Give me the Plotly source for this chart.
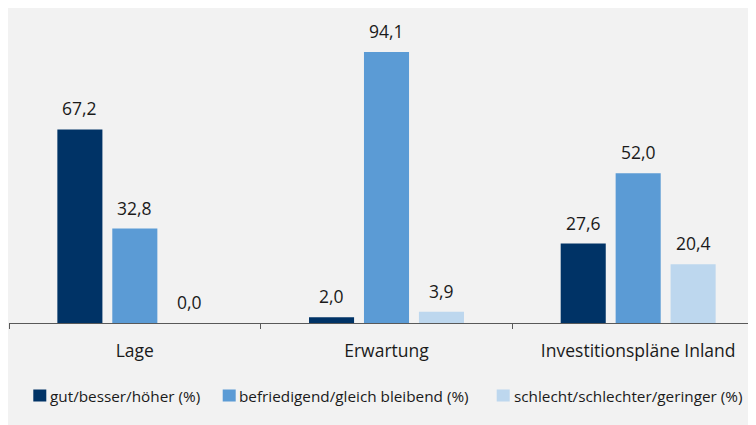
import plotly.graph_objects as go

categories = ["Lage", "Erwartung", "Investitionspläne Inland"]
series_names = ["gut/besser/höher (%)", "befriedigend/gleich bleibend (%)", "schlecht/schlechter/geringer (%)"]
gut = [67.2, 2.0, 27.6]
befriedigend = [32.8, 94.1, 52.0]
schlecht = [0.0, 3.9, 20.4]
colors = ["#003366", "#5b9bd5", "#bdd7ee"]

W, H = 756, 425
ml, mr, mt, mb = 1, 0, 27, 110
pw = W - ml - mr
ph = H - mt - mb
FONT = "Open Sans"
TXT = "#1a1a1a"

def px2paper_x(px):
    return (px - ml) / pw

def px2paper_y(py):
    return (mt + ph - py) / ph

fig = go.Figure()
all_series = [gut, befriedigend, schlecht]
for name, vals, c in zip(series_names, all_series, colors):
    fig.add_trace(go.Bar(
        x=categories, y=vals, name=name,
        marker=dict(color=c, line=dict(width=0)),
        showlegend=False,
    ))

# value labels
slot = 55
for i, vals in enumerate(all_series):
    for cat, v in zip(categories, vals):
        fig.add_annotation(x=cat, y=v, text=f"{v:.1f}".replace(".", ","),
                           showarrow=False, xshift=(i - 1) * slot, yanchor="bottom", yshift=7,
                           font=dict(size=17.5, color=TXT, family=FONT))

# manual legend
sw_x = [25.3, 214.7, 488.7]
tx_x = [40.3, 229.0, 504.0]
for name, c, sx, tx in zip(series_names, colors, sw_x, tx_x):
    fig.add_shape(type="rect", xref="paper", yref="paper",
                  x0=px2paper_x(sx), x1=px2paper_x(sx + 13),
                  y0=px2paper_y(393.5), y1=px2paper_y(381.5),
                  fillcolor=c, line=dict(width=0))
    fig.add_annotation(xref="paper", yref="paper", x=px2paper_x(tx), y=px2paper_y(387.5),
                       text=name, showarrow=False, xanchor="left", yanchor="middle",
                       font=dict(size=15.3, color=TXT, family=FONT))

fig.update_layout(
    width=W, height=H,
    margin=dict(l=ml, r=mr, t=mt, b=mb),
    paper_bgcolor="#f2f2f2", plot_bgcolor="#f2f2f2",
    barmode="group", bargap=0.345, bargroupgap=0.18,
    font=dict(family=FONT, color=TXT),
    showlegend=False,
    xaxis=dict(range=[-0.5, 2.5], showline=True, linecolor="#595959", linewidth=1,
               ticks="outside", tickson="boundaries", ticklen=5, tickcolor="#595959",
               tickfont=dict(size=17.5, color=TXT), ticklabelstandoff=12,
               showgrid=False, fixedrange=True),
    yaxis=dict(range=[0, 100], visible=False, showgrid=False, zeroline=False),
)

fig.write_html("out.html")
